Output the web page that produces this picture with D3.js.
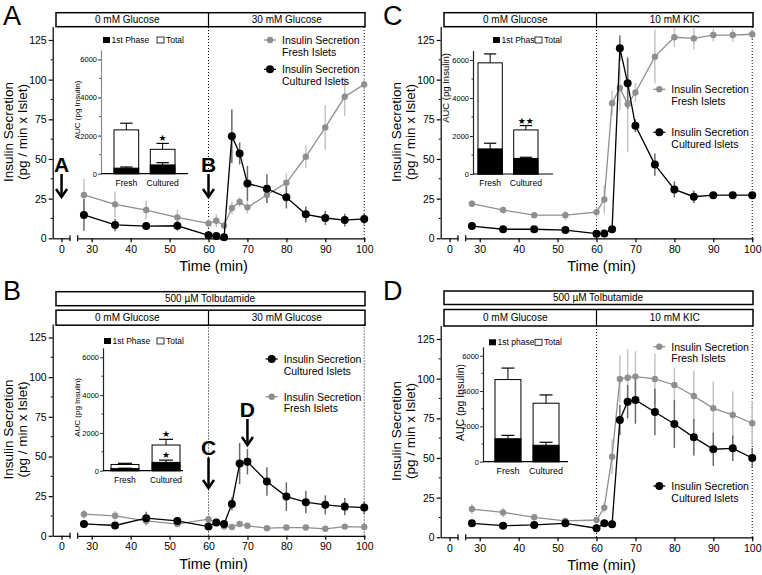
<!DOCTYPE html>
<html>
<head>
<meta charset="utf-8">
<script src="https://cdn.jsdelivr.net/npm/d3@7"></script>
<style>
  body { margin: 0; background: #fff; }
  svg { display: block; font-family: "Liberation Sans", Arial, Helvetica, sans-serif; }
</style>
</head>
<body>
<svg id="chart" width="762" height="575"></svg>
<script>
// shared axes / categories
const times = [28, 36, 44, 52, 60, 62, 64, 66, 68, 70, 75, 80, 85, 90, 95, 100];
const xTicks = [30, 40, 50, 60, 70, 80, 90, 100];
const yTicks = [0, 25, 50, 75, 100, 125];
const yMinor = [12.5, 37.5, 62.5, 87.5, 112.5];
const aucTicks = [0, 2000, 4000, 6000];
const aucMinor = [1000, 3000, 5000];
const aucGroups = ["Fresh", "Cultured"];

// panel A - 0 -> 30 mM glucose
const freshA = [27.3, 21.4, 17.8, 13.2, 9.4, 11.1, 8.0, 19.1, 22.9, 19.5, 27.3, 35.0, 51.4, 69.9, 89.2, 97.0];
const freshErrA = [10, 8, 6, 5, 3, 4, 2, 4, 3, 4, 5, 6, 7, 14, 12, 4];
const culturedA = [14.7, 8.4, 7.7, 7.9, 1.9, 1.5, 0.6, 64.4, 53.5, 34.6, 31.3, 25.8, 15.1, 12.8, 11.5, 12.2];
const culturedErrA = [10, 4, 2, 3, 2, 1, 1, 17, 7, 11, 9, 7, 5, 4.5, 4, 3.5];
const aucTotalA = [2300, 1280];
const aucTotalErrA = [350, 310];
const aucFirstA = [290, 460];
const aucFirstErrA = [60, 120];

// panel B - tolbutamide, 0 -> 30 mM glucose
const freshB = [13.6, 12.6, 9.4, 7.4, 10.5, 8.4, 5.8, 5.5, 7.4, 6.3, 4.8, 5.2, 5.2, 4.4, 5.8, 5.5];
const freshErrB = [3, 3, 3, 2, 3, 1, 1, 1, 1, 1, 1, 1, 1, 1, 1, 1];
const culturedB = [7.5, 6.5, 11.1, 9.4, 5.8, 8.4, 7.4, 20.1, 45.5, 46.7, 34.2, 24.7, 21.2, 19.5, 18.4, 17.8];
const culturedErrB = [2, 1, 4, 2, 1, 1, 2, 4, 13, 8, 9, 9, 7, 6, 5.5, 4];
const aucTotalB = [330, 1360];
const aucTotalErrB = [60, 300];
const aucFirstB = [110, 440];
const aucFirstErrB = [20, 120];

// panel C - 0 mM glucose -> 10 mM KIC
const freshC = [21.8, 17.8, 14.6, 14.6, 16.5, 24.5, 85.2, 94.7, 84.6, 91.9, 114.5, 126.7, 126.0, 128.1, 128.1, 128.6];
const freshErrC = [2, 2, 2, 3, 3, 9, 8, 14, 30, 6, 17, 6, 7, 4, 4, 3];
const culturedC = [7.7, 5.7, 5.7, 5.2, 2.9, 3.1, 5.7, 119.8, 97.8, 71.0, 46.5, 30.8, 26.2, 27.2, 27.2, 27.2];
const culturedErrC = [1.5, 1, 1, 1, 1, 1, 1, 8, 16, 4, 7, 5, 4, 2, 2, 2];
const aucTotalC = [5850, 2320];
const aucTotalErrC = [470, 230];
const aucFirstC = [1320, 820];
const aucFirstErrC = [300, 60];

// panel D - tolbutamide, 0 mM glucose -> 10 mM KIC
const freshD = [17.8, 15.7, 12.6, 10.3, 10.9, 18.7, 50.8, 99.8, 100.6, 101.3, 99.8, 96.0, 89.1, 81.3, 77.1, 71.9];
const freshErrD = [3, 3, 2, 2, 2, 3, 11, 15, 18, 16, 16, 11, 16, 17, 15, 14];
const culturedD = [8.8, 7.3, 7.8, 8.8, 5.7, 8.8, 8.2, 74.0, 85.5, 86.6, 79.0, 71.4, 63.0, 55.5, 56.1, 50.0];
const culturedErrD = [2, 1, 1, 2, 1, 1, 1, 9.5, 10.5, 15, 14.7, 15, 11.5, 10.5, 8, 6.3];
const aucTotalD = [4650, 3310];
const aucTotalErrD = [650, 470];
const aucFirstD = [1300, 930];
const aucFirstErrD = [190, 170];

const svg = d3.select("#chart");
const freshColor = "#8f8f8f";
const freshErrColor = "#c4c4c4";
const culturedErrColor = "#6a6a6a";
const intFmt = d3.format("d");

const panels = [
  {
    letter: "A", letterPos: [3, 24.5], ox: 0, oy: 0,
    headers: [{ y: 12.7, h: 14, labels: ["0 mM Glucose", "30 mM Glucose"] }],
    fresh: freshA, freshErr: freshErrA, cultured: culturedA, culturedErr: culturedErrA,
    legend: [{ s: "fresh", y: 40, name: "Fresh Islets" }, { s: "cultured", y: 69.3, name: "Cultured Islets" }],
    legendX: 270,
    arrows: [{ label: "A", t: 0, base: 171.7, y1: 174, y2: 197 }, { label: "B", t: 60, base: 171.7, y1: 174, y2: 197 }],
    auc: { total: aucTotalA, totalErr: aucTotalErrA, first: aucFirstA, firstErr: aucFirstErrA,
           stars: ["", "\u2605"], firstStars: ["", ""],
           ax: 101, y0: 173.7, k: 38.1 / 2000, bars: [114, 175], xEnd: 188, axisColor: "#8a8a8a",
           labelY: 186, legendY: 40, sq1: 103, sq2: 157, titleX: 77, titleY: 110,
           tickFont: 7.5, titleFont: 8, labelFont: 8.5, legendFont: 8.5, legendText: "1st Phase" }
  },
  {
    letter: "B", letterPos: [3, 300], ox: 0, oy: 297.5,
    headers: [{ y: -5.8, h: 14, labels: ["500 \u00b5M Tolbutamide"] }, { y: 12.7, h: 15, labels: ["0 mM Glucose", "30 mM Glucose"] }],
    fresh: freshB, freshErr: freshErrB, cultured: culturedB, culturedErr: culturedErrB,
    legend: [{ s: "cultured", y: 61.5, name: "Cultured Islets" }, { s: "fresh", y: 99.2, name: "Fresh Islets" }],
    legendX: 271.7,
    arrows: [{ label: "C", t: 60, base: 157.5, y1: 160, y2: 190.5 }, { label: "D", t: 70, base: 119.2, y1: 121.5, y2: 147.5 }],
    auc: { total: aucTotalB, totalErr: aucTotalErrB, first: aucFirstB, firstErr: aucFirstErrB,
           stars: ["", "\u2605"], firstStars: ["", "\u2605"],
           ax: 103, y0: 173.2, k: 37.8 / 2000, bars: [111, 180], xEnd: 183, axisColor: "#222",
           labelY: 185, legendY: 43.5, sq1: 104, sq2: 157, titleX: 77, titleY: 110,
           tickFont: 7.5, titleFont: 8, labelFont: 8.5, legendFont: 8.5, legendText: "1st Phase" }
  },
  {
    letter: "C", letterPos: [383, 24.5], ox: 388, oy: 0,
    headers: [{ y: 12.7, h: 14, labels: ["0 mM Glucose", "10 mM KIC"] }],
    fresh: freshC, freshErr: freshErrC, cultured: culturedC, culturedErr: culturedErrC,
    legend: [{ s: "fresh", y: 89.3, name: "Fresh Islets" }, { s: "cultured", y: 132.3, name: "Cultured Islets" }],
    legendX: 271.3,
    arrows: [],
    auc: { total: aucTotalC, totalErr: aucTotalErrC, first: aucFirstC, firstErr: aucFirstErrC,
           stars: ["", "\u2605\u2605"], firstStars: ["", ""],
           ax: 85, y0: 174, k: 38 / 2000, bars: [90, 150], xEnd: 165, axisColor: "#222",
           labelY: 186, legendY: 40, sq1: 105, sq2: 147, titleX: 58, titleY: 88,
           tickFont: 7.5, titleFont: 9.5, labelFont: 8.5, legendFont: 8.5, legendText: "1st Phase" }
  },
  {
    letter: "D", letterPos: [383, 300], ox: 388, oy: 299,
    headers: [{ y: -8, h: 13.5, labels: ["500 \u00b5M Tolbutamide"] }, { y: 10.5, h: 16.5, labels: ["0 mM Glucose", "10 mM KIC"] }],
    fresh: freshD, freshErr: freshErrD, cultured: culturedD, culturedErr: culturedErrD,
    legend: [{ s: "fresh", y: 47.7, name: "Fresh Islets" }, { s: "cultured", y: 187, name: "Cultured Islets" }],
    legendX: 271.3,
    arrows: [],
    auc: { total: aucTotalD, totalErr: aucTotalErrD, first: aucFirstD, firstErr: aucFirstErrD,
           stars: ["", ""], firstStars: ["", ""],
           ax: 95, y0: 162.7, k: 35.33 / 2000, bars: [107, 171], xEnd: 180, axisColor: "#222",
           labelY: 174.5, legendY: 43.3, sq1: 101, sq2: 147, titleX: 72, titleY: 103.5,
           tickFont: 7.5, titleFont: 10.5, labelFont: 9, legendFont: 8.5, legendText: "1st phase" }
  }
];

function drawPanel(p) {
  const g = svg.append("g").attr("transform", `translate(${p.ox},${p.oy})`);

  // scales: broken time axis (0 segment + 26..100 segment)
  const x = d3.scaleLinear().domain([26.4, 100.2]).range([77.7, 365]);
  const x0 = d3.scaleLinear().domain([-2.3, 2.2]).range([52.7, 70]);
  const y = d3.scaleLinear().domain([0, 133.5]).range([238.3, 26.5]);
  const xAt = t => (t < 10 ? x0(t) : x(t));

  // condition boxes on top
  p.headers.forEach(h => {
    g.append("rect")
      .attr("x", 56).attr("y", h.y)
      .attr("width", 309).attr("height", h.h)
      .attr("fill", "#fff").attr("stroke", "#000").attr("stroke-width", 1.5);
    if (h.labels.length === 2) {
      g.append("line")
        .attr("x1", x(60)).attr("x2", x(60))
        .attr("y1", h.y).attr("y2", h.y + h.h)
        .attr("stroke", "#000").attr("stroke-width", 1.2);
      const centers = [(56 + x(60)) / 2 - 5, (x(60) + 365) / 2];
      h.labels.forEach((t, i) => {
        g.append("text").attr("x", centers[i]).attr("y", h.y + h.h / 2 + 3.6)
          .attr("text-anchor", "middle").attr("font-size", 10).text(t);
      });
    } else {
      g.append("text").attr("x", 210).attr("y", h.y + h.h / 2 + 3.6)
        .attr("text-anchor", "middle").attr("font-size", 10).text(h.labels[0]);
    }
  });

  //dotted markers at start/end of stimulation
  [60, 100].forEach(t => {
    g.append("line")
      .attr("x1", x(t)).attr("x2", x(t))
      .attr("y1", 27).attr("y2", y(0))
      .attr("stroke", "#000").attr("stroke-width", 1)
      .attr("stroke-dasharray", "1,2");
  });

  // y axis
  const yAxis = d3.axisLeft(y).tickValues(yTicks).tickSize(4).tickSizeOuter(0).tickPadding(2);
  const ya = g.append("g").attr("transform", "translate(52.7,0)").call(yAxis);
  ya.selectAll("line, path").attr("stroke", "#000").attr("stroke-width", 1.2);
  ya.selectAll("text").attr("font-size", 10.5).attr("fill", "#000").attr("font-family", null);
  ya.selectAll(".minor").data(yMinor).enter().append("line")
    .attr("class", "minor").attr("x1", -2).attr("x2", 0)
    .attr("y1", d => y(d)).attr("y2", d => y(d))
    .attr("stroke", "#000").attr("stroke-width", 1);

  // x axis, two segments
  const xa = g.append("g").attr("transform", `translate(0,${y(0)})`)
    .call(d3.axisBottom(x).tickValues(xTicks).tickFormat(intFmt).tickSize(4).tickSizeOuter(0));
  const xa0 = g.append("g").attr("transform", `translate(0,${y(0)})`)
    .call(d3.axisBottom(x0).tickValues([0]).tickFormat(intFmt).tickSize(4).tickSizeOuter(0));
  [xa, xa0].forEach(a => {
    a.selectAll("line, path").attr("stroke", "#000").attr("stroke-width", 1.2);
    a.selectAll("text").attr("font-size", 10.5).attr("fill", "#000").attr("font-family", null);
  });
  // axis break marks
  [x0.range()[1], x.range()[0]].forEach(bx => {
    g.append("line").attr("x1", bx).attr("x2", bx)
      .attr("y1", y(0) - 3).attr("y2", y(0) + 3)
      .attr("stroke", "#000").attr("stroke-width", 1.2);
  });

  // axis titles
  g.append("text")
    .attr("transform", "translate(8,132) rotate(-90)")
    .attr("text-anchor", "middle").attr("dy", "0.35em")
    .attr("font-size", 13.5).text("Insulin Secretion");
  g.append("text")
    .attr("transform", "translate(22.5,132) rotate(-90)")
    .attr("text-anchor", "middle").attr("dy", "0.35em")
    .attr("font-size", 13.5).text("(pg / min x Islet)");
  g.append("text")
    .attr("x", 213.5).attr("y", 271)
    .attr("text-anchor", "middle").attr("font-size", 14.5).text("Time (min)");

  // series
  const series = {
    fresh: { vals: p.fresh, err: p.freshErr, color: freshColor, errColor: freshErrColor, r: 3.2 },
    cultured: { vals: p.cultured, err: p.culturedErr, color: "#000", errColor: culturedErrColor, r: 4 }
  };
  const line = d3.line().x((d, i) => x(times[i])).y(d => y(d));

  ["fresh", "cultured"].forEach(k => {
    const s = series[k];
    g.selectAll(".err-" + k).data(s.vals).enter().append("line")
      .attr("x1", (d, i) => x(times[i])).attr("x2", (d, i) => x(times[i]))
      .attr("y1", (d, i) => y(d - s.err[i])).attr("y2", (d, i) => y(d + s.err[i]))
      .attr("stroke", s.errColor).attr("stroke-width", 1.5);
  });
  ["fresh", "cultured"].forEach(k => {
    const s = series[k];
    g.append("path").datum(s.vals)
      .attr("d", line).attr("fill", "none")
      .attr("stroke", s.color).attr("stroke-width", 1.3);
    g.selectAll(".pt-" + k).data(s.vals).enter().append("circle")
      .attr("cx", (d, i) => x(times[i])).attr("cy", d => y(d))
      .attr("r", s.r).attr("fill", s.color);
  });

  // legend
  p.legend.forEach(l => {
    const s = series[l.s];
    g.append("line").attr("x1", p.legendX - 6).attr("x2", p.legendX + 6)
      .attr("y1", l.y).attr("y2", l.y).attr("stroke", s.color).attr("stroke-width", 1.3);
    g.append("circle").attr("cx", p.legendX).attr("cy", l.y).attr("r", s.r).attr("fill", s.color);
    g.append("text").attr("x", p.legendX + 12).attr("y", l.y + 4)
      .attr("font-size", 10.5).text("Insulin Secretion");
    g.append("text").attr("x", p.legendX + 12).attr("y", l.y + 15.5)
      .attr("font-size", 10.5).text(l.name);
  });

  // arrows
  p.arrows.forEach(a => {
    const ax = xAt(a.t);
    g.append("text").attr("x", ax).attr("y", a.base)
      .attr("text-anchor", "middle").attr("font-size", 21).attr("font-weight", "bold").text(a.label);
    g.append("line").attr("x1", ax).attr("x2", ax).attr("y1", a.y1).attr("y2", a.y2)
      .attr("stroke", "#000").attr("stroke-width", 2.5);
    g.append("path")
      .attr("d", `M${ax - 5.5},${a.y2 - 8}L${ax},${a.y2}L${ax + 5.5},${a.y2 - 8}`)
      .attr("fill", "none").attr("stroke", "#000").attr("stroke-width", 2.5);
  });

  drawInset(g, p.auc);

  // panel letter
  svg.append("text").attr("x", p.letterPos[0]).attr("y", p.letterPos[1])
    .attr("font-size", 27).text(p.letter);
}

function drawInset(g, a) {
  const yA = d3.scaleLinear().domain([0, 6500]).range([a.y0, a.y0 - 6500 * a.k]);
  const xb = d3.scaleBand().domain(aucGroups).range(a.bars).paddingInner(0.32).paddingOuter(0);
  const bw = xb.bandwidth();

  // total bars (white) then first phase (black)
  g.selectAll(".tot").data(a.total).enter().append("rect")
    .attr("x", (d, i) => xb(aucGroups[i])).attr("y", d => yA(d))
    .attr("width", bw).attr("height", d => yA(0) - yA(d))
    .attr("fill", "#fff").attr("stroke", "#000").attr("stroke-width", 1);
  g.selectAll(".first").data(a.first).enter().append("rect")
    .attr("x", (d, i) => xb(aucGroups[i])).attr("y", d => yA(d))
    .attr("width", bw).attr("height", d => yA(0) - yA(d))
    .attr("fill", "#000").attr("stroke", "#000").attr("stroke-width", 1);

  // error bars with caps
  const errBars = (vals, errs) => {
    vals.forEach((v, i) => {
      const cx = xb(aucGroups[i]) + bw / 2;
      g.append("line").attr("x1", cx).attr("x2", cx)
        .attr("y1", yA(v)).attr("y2", yA(v + errs[i]))
        .attr("stroke", "#000").attr("stroke-width", 1);
      g.append("line").attr("x1", cx - bw / 4).attr("x2", cx + bw / 4)
        .attr("y1", yA(v + errs[i])).attr("y2", yA(v + errs[i]))
        .attr("stroke", "#000").attr("stroke-width", 1.2);
    });
  };
  errBars(a.total, a.totalErr);
  errBars(a.first, a.firstErr);

  // significance stars
  a.stars.forEach((s, i) => {
    if (!s) return;
    g.append("text").attr("x", xb(aucGroups[i]) + bw / 2)
      .attr("y", yA(a.total[i] + a.totalErr[i]) - 2)
      .attr("text-anchor", "middle").attr("font-size", 9).attr("font-family", "DejaVu Sans").text(s);
  });
  a.firstStars.forEach((s, i) => {
    if (!s) return;
    g.append("text").attr("x", xb(aucGroups[i]) + bw / 2)
      .attr("y", yA(a.first[i] + a.firstErr[i]) - 2)
      .attr("text-anchor", "middle").attr("font-size", 9).attr("font-family", "DejaVu Sans").text(s);
  });

  // axes
  const ay = g.append("g").attr("transform", `translate(${a.ax},0)`)
    .call(d3.axisLeft(yA).tickValues(aucTicks).tickFormat(intFmt).tickSize(3).tickSizeOuter(0).tickPadding(1));
  ay.select("path").attr("stroke", a.axisColor).attr("stroke-width", 1.2);
  ay.selectAll("line").attr("stroke", "#000").attr("stroke-width", 0.8);
  ay.selectAll("text").attr("font-size", a.tickFont).attr("fill", "#000").attr("font-family", null);
  ay.selectAll(".minor").data(aucMinor).enter().append("line")
    .attr("class", "minor").attr("x1", -1.5).attr("x2", 0)
    .attr("y1", d => yA(d)).attr("y2", d => yA(d))
    .attr("stroke", "#000").attr("stroke-width", 0.8);
  g.append("line").attr("x1", a.ax).attr("x2", a.xEnd)
    .attr("y1", yA(0)).attr("y2", yA(0))
    .attr("stroke", "#000").attr("stroke-width", 1.2);

  g.selectAll(".grp").data(aucGroups).enter().append("text")
    .attr("x", d => xb(d) + bw / 2).attr("y", a.labelY)
    .attr("text-anchor", "middle").attr("font-size", a.labelFont).text(d => d);

  g.append("text")
    .attr("transform", `translate(${a.titleX},${a.titleY}) rotate(-90)`)
    .attr("text-anchor", "middle").attr("dy", "0.35em")
    .attr("font-size", a.titleFont).text("AUC (pg Insulin)");

  // inset legend
  g.append("rect").attr("x", a.sq1).attr("y", a.legendY - 3).attr("width", 7).attr("height", 6)
    .attr("fill", "#000");
  g.append("text").attr("x", a.sq1 + 8.5).attr("y", a.legendY + 3)
    .attr("font-size", a.legendFont).text(a.legendText);
  g.append("rect").attr("x", a.sq2).attr("y", a.legendY - 3).attr("width", 7).attr("height", 6)
    .attr("fill", "#fff").attr("stroke", "#000").attr("stroke-width", 0.8);
  g.append("text").attr("x", a.sq2 + 9).attr("y", a.legendY + 3)
    .attr("font-size", a.legendFont).text("Total");
}

panels.forEach(drawPanel);
</script>
</body>
</html>
